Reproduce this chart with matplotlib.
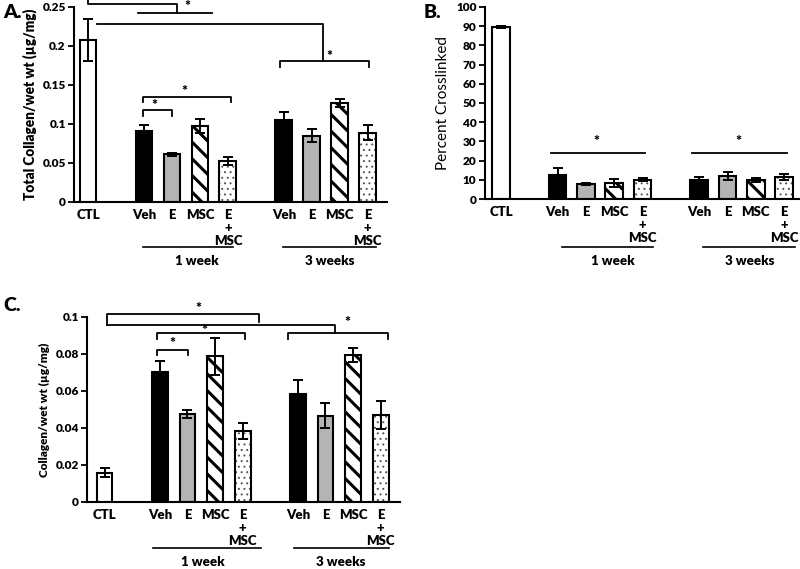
import matplotlib
matplotlib.use("Agg")
import matplotlib.pyplot as plt
import matplotlib.transforms as mtransforms
import numpy as np

plt.rcParams['font.family'] = ['Lato', 'DejaVu Sans']
plt.rcParams['hatch.linewidth'] = 2.0

# Dades llegides de la figura
labels = ["CTL", "Veh", "E", "MSC", "E\n+\nMSC", "Veh", "E", "MSC", "E\n+\nMSC"]
xpos = [0, 2, 3, 4, 5, 7, 8, 9, 10]
styles = ["ctl", "veh", "e", "msc", "emsc", "veh", "e", "msc", "emsc"]

total_coll = [0.208, 0.091, 0.061, 0.097, 0.053, 0.105, 0.085, 0.127, 0.089]
total_coll_err = [0.027, 0.007, 0.002, 0.009, 0.005, 0.010, 0.008, 0.005, 0.009]

crosslinked = [89.5, 12.5, 8.0, 8.5, 10.0, 10.0, 12.0, 10.0, 11.5]
crosslinked_err = [0.5, 3.5, 0.6, 2.0, 0.8, 1.3, 2.0, 1.2, 1.5]

coll_c = [0.0157, 0.0700, 0.0475, 0.0787, 0.0383, 0.0584, 0.0465, 0.0794, 0.0470]
coll_c_err = [0.0025, 0.0063, 0.0020, 0.0100, 0.0042, 0.0074, 0.0068, 0.0036, 0.0074]

BOLD = "heavy"


def draw_bars(ax, vals, errs, width):
    for x, v, e, s in zip(xpos, vals, errs, styles):
        if s == "ctl":
            ax.bar(x, v, width, color="white", edgecolor="black", linewidth=1.5, zorder=2)
        elif s == "veh":
            ax.bar(x, v, width, color="black", edgecolor="black", linewidth=1.5, zorder=2)
        elif s == "e":
            ax.bar(x, v, width, color="#b4b4b4", edgecolor="black", linewidth=1.5, zorder=2)
        elif s == "msc":
            b = ax.bar(x, v, width, color="white", edgecolor="black", hatch="\\\\",
                       linewidth=1.5, zorder=2)
            for p in b:
                if hasattr(p, "set_hatch_linewidth"):
                    p.set_hatch_linewidth(2.2)
        else:
            b = ax.bar(x, v, width, color="white", edgecolor="#555555", hatch="...",
                       linewidth=0, zorder=2)
            for p in b:
                if hasattr(p, "set_hatch_linewidth"):
                    p.set_hatch_linewidth(0.7)
            ax.bar(x, v, width, color="none", edgecolor="black", linewidth=1.5, zorder=2)
        ax.errorbar(x, v, yerr=e, fmt="none", ecolor="black", elinewidth=1.4,
                    capsize=3.5, capthick=1.4, zorder=3)


def style_axes(ax, xlim, ylim, yticks, yticklabels, ylabel, ylabel_bold, ylabel_size):
    ax.set_xlim(*xlim)
    ax.set_ylim(*ylim)
    for sp in ["top", "right"]:
        ax.spines[sp].set_visible(False)
    for sp in ["left", "bottom"]:
        ax.spines[sp].set_linewidth(1.5)
    ax.set_yticks(yticks)
    ax.set_yticklabels(yticklabels, fontweight=BOLD, fontsize=8.5)
    ax.set_xticks(xpos)
    ax.set_xticklabels(labels, fontweight=BOLD, fontsize=9.5, linespacing=1.1, va="top")
    ax.tick_params(axis="x", length=0, pad=5)
    ax.tick_params(axis="y", direction="out", length=4, width=1.3, pad=2)
    ax.set_ylabel(ylabel, fontweight=BOLD if ylabel_bold else "normal",
                  fontsize=ylabel_size, labelpad=4)


def group_labels(ax, line_y, text_y, g1, g2, t1, t2):
    tr = mtransforms.blended_transform_factory(ax.transData, ax.transAxes)
    ax.plot(g1, [line_y, line_y], color="black", lw=1.2, transform=tr, clip_on=False)
    ax.plot(g2, [line_y, line_y], color="black", lw=1.2, transform=tr, clip_on=False)
    ax.text(t1, text_y, "1 week", transform=tr, ha="center", va="center",
            fontweight=BOLD, fontsize=9.5)
    ax.text(t2, text_y, "3 weeks", transform=tr, ha="center", va="center",
            fontweight=BOLD, fontsize=9.5)


def line(ax, xs, ys):
    ax.plot(xs, ys, color="black", lw=1.3, clip_on=False, zorder=4)


def bracket(ax, x1, x2, y, drop):
    line(ax, [x1, x1, x2, x2], [y - drop, y, y, y - drop])


def star(ax, x, y):
    ax.text(x, y, "*", ha="center", va="center", fontweight=BOLD, fontsize=10,
            clip_on=False)


fig = plt.figure(figsize=(8.0, 5.69), dpi=100)

# ---- A ----
axA = fig.add_axes([0.0925, 0.645, 0.391, 0.343])
draw_bars(axA, total_coll, total_coll_err, 0.6)
style_axes(axA, (-0.5, 10.68), (0, 0.25), [0, 0.05, 0.1, 0.15, 0.2, 0.25],
           ["0", "0.05", "0.1", "0.15", "0.2", "0.25"],
           "Total Collagen/wet wt (µg/mg)", True, 9.8)
line(axA, [0, 0, 3.18, 3.18], [0.260, 0.254, 0.254, 0.2423])
line(axA, [1.79, 4.43], [0.2423, 0.2423])
star(axA, 3.55, 0.250)
line(axA, [0.32, 8.39, 8.39], [0.228, 0.228, 0.181])
bracket(axA, 6.86, 10.04, 0.181, 0.008)
star(axA, 8.64, 0.187)
bracket(axA, 1.96, 5.1, 0.1346, 0.0065)
star(axA, 3.43, 0.141)
bracket(axA, 1.96, 3.0, 0.118, 0.008)
star(axA, 2.39, 0.124)
group_labels(axA, -0.231, -0.30, [1.96, 5.18], [6.96, 10.29], 3.9, 8.64)
fig.text(0.004, 0.978, "A.", fontweight=BOLD, fontsize=14, va="center")

# ---- B ----
axB = fig.add_axes([0.606, 0.650, 0.394, 0.338])
draw_bars(axB, crosslinked, crosslinked_err, 0.62)
style_axes(axB, (-0.57, 10.56), (0, 100), list(range(0, 101, 10)),
           [str(v) for v in range(0, 101, 10)], "Percent Crosslinked", False, 11)
line(axB, [1.77, 5.09], [24, 24])
star(axB, 3.37, 30)
line(axB, [6.75, 10.1], [24, 24])
star(axB, 8.37, 30)
group_labels(axB, -0.25, -0.32, [2.16, 5.37], [7.14, 10.39], 3.96, 8.8)
fig.text(0.529, 0.978, "B.", fontweight=BOLD, fontsize=14, va="center")

# ---- C ----
axC = fig.add_axes([0.109, 0.118, 0.391, 0.325])
draw_bars(axC, coll_c, coll_c_err, 0.57)
style_axes(axC, (-0.63, 10.7), (0, 0.1), [0, 0.02, 0.04, 0.06, 0.08, 0.1],
           ["0", "0.02", "0.04", "0.06", "0.08", "0.1"],
           "Collagen/wet wt (µg/mg)", True, 8.5)
line(axC, [0.07, 0.07, 5.6, 5.6], [0.0958, 0.1014, 0.1014, 0.0975])
star(axC, 3.4, 0.1045)
line(axC, [0.07, 8.36, 8.36], [0.0958, 0.0958, 0.0912])
bracket(axC, 6.63, 10.25, 0.0912, 0.0033)
star(axC, 8.8, 0.0972)
bracket(axC, 1.89, 5.1, 0.0912, 0.0033)
star(axC, 3.6, 0.0928)
bracket(axC, 1.89, 3.02, 0.0822, 0.0027)
star(axC, 2.46, 0.0856)
group_labels(axC, -0.249, -0.325, [1.75, 5.67], [6.87, 10.29], 3.56, 8.55)
fig.text(0.004, 0.463, "C.", fontweight=BOLD, fontsize=14, va="center")

fig.savefig("out.png", dpi=100, facecolor="white")
